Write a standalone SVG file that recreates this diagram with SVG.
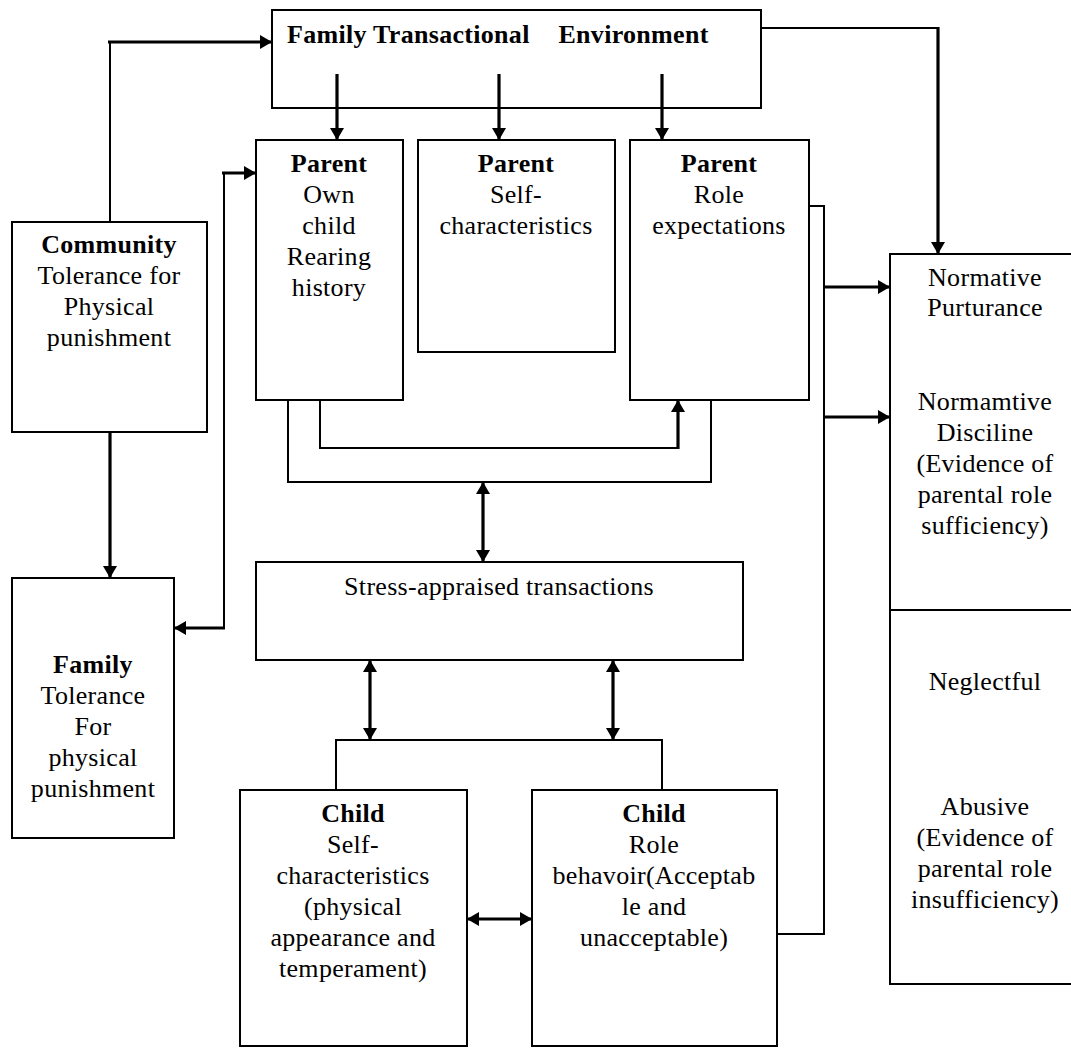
<svg xmlns="http://www.w3.org/2000/svg" width="1071" height="1048" viewBox="0 0 1071 1048">
<style>
.box{fill:none;stroke:#000;stroke-width:2}
.thin{fill:none;stroke:#000;stroke-width:2}
.thick{fill:none;stroke:#000;stroke-width:3.2}
.arr{marker-end:url(#ah)}
.dbl{marker-start:url(#ah);marker-end:url(#ah)}
text{font-family:"Liberation Serif","Times New Roman",serif;font-size:26px;fill:#000;text-anchor:middle;letter-spacing:0.3px}
.b{font-weight:bold}
</style>
<defs>
<marker id="ah" markerWidth="12" markerHeight="14" refX="12" refY="7" orient="auto-start-reverse" markerUnits="userSpaceOnUse">
<path d="M0,0 L12,7 L0,14 z" fill="#000"/>
</marker>
</defs>
<rect width="1071" height="1048" fill="#fff"/>

<g id="connectors">
<path class="thin" d="M110,222 V42"/>
<path class="thick arr" d="M108,42 H272"/>
<path class="thin" d="M761,28 H938"/>
<path class="thick arr" d="M938,27 V254"/>
<path class="thick arr" d="M337,74 V140"/>
<path class="thick arr" d="M499,74 V140"/>
<path class="thick arr" d="M662,74 V140"/>
<path class="thick arr" d="M110,432 V578"/>
<path class="thin" d="M224,173 V628"/>
<path class="thick arr" d="M222,173 H256"/>
<path class="thick arr" d="M225,628 H174"/>
<path class="thin" d="M288,400 V482 H711 V400"/>
<path class="thin" d="M320,400 V448 H678"/>
<path class="thick arr" d="M678,449 V400"/>
<path class="thick dbl" d="M483,482 V562"/>
<path class="thin" d="M809,206 H824 V934 H777"/>
<path class="thick arr" d="M823,287 H890"/>
<path class="thick arr" d="M823,417 H890"/>
<path class="thick dbl" d="M370,660 V740"/>
<path class="thick dbl" d="M613,660 V740"/>
<path class="thin" d="M336,790 V740 H662 V790"/>
<path class="thick dbl" d="M467,919 H532"/>
</g>

<g id="fte">
<rect class="box" x="272" y="10" width="489" height="98"/>
<text class="b" x="287" y="43" style="text-anchor:start">Family Transactional <tspan dx="22">Environment</tspan></text>
</g>

<g id="community">
<rect class="box" x="12" y="222" width="195" height="210"/>
<text x="109" y="253"><tspan class="b">Community</tspan><tspan x="109" dy="31">Tolerance for</tspan><tspan x="109" dy="31">Physical</tspan><tspan x="109" dy="31">punishment</tspan></text>
</g>

<g id="family">
<rect class="box" x="12" y="578" width="162" height="260"/>
<text x="93" y="673"><tspan class="b">Family</tspan><tspan x="93" dy="31">Tolerance</tspan><tspan x="93" dy="31">For</tspan><tspan x="93" dy="31">physical</tspan><tspan x="93" dy="31">punishment</tspan></text>
</g>

<g id="parent-own">
<rect class="box" x="256" y="140" width="147" height="260"/>
<text x="329" y="172"><tspan class="b">Parent</tspan><tspan x="329" dy="31">Own</tspan><tspan x="329" dy="31">child</tspan><tspan x="329" dy="31">Rearing</tspan><tspan x="329" dy="31">history</tspan></text>
</g>

<g id="parent-self">
<rect class="box" x="418" y="140" width="197" height="212"/>
<text x="516" y="172"><tspan class="b">Parent</tspan><tspan x="516" dy="31">Self-</tspan><tspan x="516" dy="31">characteristics</tspan></text>
</g>

<g id="parent-role">
<rect class="box" x="630" y="140" width="179" height="260"/>
<text x="719" y="172"><tspan class="b">Parent</tspan><tspan x="719" dy="31">Role</tspan><tspan x="719" dy="31">expectations</tspan></text>
</g>

<g id="stress">
<rect class="box" x="256" y="562" width="487" height="98"/>
<text x="499" y="595">Stress-appraised transactions</text>
</g>

<g id="child-self">
<rect class="box" x="240" y="790" width="227" height="256"/>
<text x="353" y="822"><tspan class="b">Child</tspan><tspan x="353" dy="31">Self-</tspan><tspan x="353" dy="31">characteristics</tspan><tspan x="353" dy="31">(physical</tspan><tspan x="353" dy="31">appearance and</tspan><tspan x="353" dy="31">temperament)</tspan></text>
</g>

<g id="child-role">
<rect class="box" x="532" y="790" width="245" height="256"/>
<text x="654" y="822"><tspan class="b">Child</tspan><tspan x="654" dy="31">Role</tspan><tspan x="654" dy="31">behavoir(Acceptab</tspan><tspan x="654" dy="31">le and</tspan><tspan x="654" dy="31">unacceptable)</tspan></text>
</g>

<g id="outcomes">
<rect class="box" x="890" y="254" width="190" height="730"/>
<line class="box" x1="890" y1="610" x2="1071" y2="610"/>
<text x="985" y="286"><tspan>Normative</tspan><tspan x="985" dy="30">Purturance</tspan></text>
<text x="985" y="410"><tspan>Normamtive</tspan><tspan x="985" dy="31">Disciline</tspan><tspan x="985" dy="31">(Evidence of</tspan><tspan x="985" dy="31">parental role</tspan><tspan x="985" dy="31">sufficiency)</tspan></text>
<text x="985" y="690">Neglectful</text>
<text x="985" y="815"><tspan>Abusive</tspan><tspan x="985" dy="31">(Evidence of</tspan><tspan x="985" dy="31">parental role</tspan><tspan x="985" dy="31">insufficiency)</tspan></text>
</g>
</svg>
